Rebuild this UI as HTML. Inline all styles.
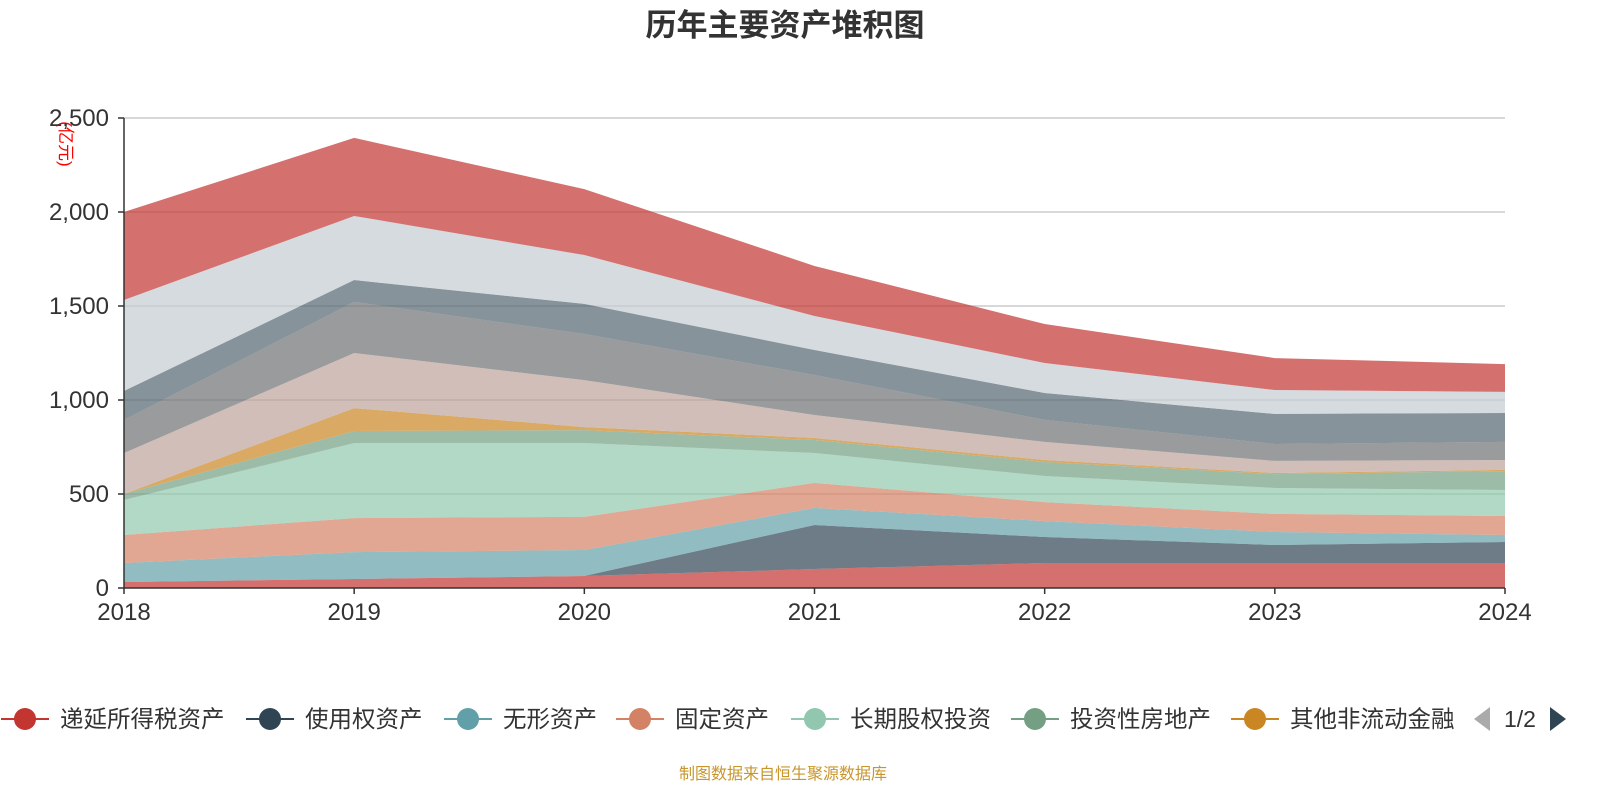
<!DOCTYPE html>
<html><head><meta charset="utf-8">
<style>
html,body{margin:0;padding:0;background:#fff;}
body{width:1600px;height:800px;overflow:hidden;font-family:"Liberation Sans","Noto Sans CJK SC",sans-serif;}
svg text{font-family:"Liberation Sans","Noto Sans CJK SC",sans-serif;}
</style></head>
<body>
<svg id="chart" width="1600" height="800" viewBox="0 0 1600 800">
<text x="785" y="36" text-anchor="middle" font-size="31" font-weight="bold" fill="#333">历年主要资产堆积图</text>
<text transform="translate(60,144) rotate(90)" text-anchor="middle" font-size="17" fill="#ff0000">(亿元)</text>
<g id="grid"></g>
<g id="areas"></g>
<g id="axes"></g>
<g id="legend"></g>
<text x="783" y="779" text-anchor="middle" font-size="16" fill="#c8962c">制图数据来自恒生聚源数据库</text>
</svg>
<script>
const years = ["2018","2019","2020","2021","2022","2023","2024"];
const seriesNames = ["递延所得税资产","使用权资产","无形资产","固定资产","长期股权投资","投资性房地产","其他非流动金融","商誉","在建工程","长期待摊费用","其他非流动资产","货币资金"];
const s0 = [32,48,64,101,133,133,133];
const s1 = [0,0,0,234,138,96,112];
const s2 = [101,143,138,91,85,69,37];
const s3 = [149,181,176,133,101,96,101];
const s4 = [186,399,393,159,139,138,138];
const s5 = [32,64,69,69,74,74,101];
const s6 = [0,122,16,11,11,6,6];
const s7 = [218,293,250,122,96,64,53];
const s8 = [176,271,245,213,117,90,96];
const s9 = [154,117,160,133,143,160,154];
const s10 = [484,341,260,181,160,127,112];
const s11 = [468,415,351,266,207,170,148];
const yTicks = [0,500,1000,1500,2000,2500];
const yTickLabels = ["0","500","1,000","1,500","2,000","2,500"];
const colors = ["#c23531","#2f4554","#61a0a8","#d48265","#91c7ae","#749f83","#ca8622","#bda29a","#6e7074","#546570","#c4ccd3","#c23531"];

const series = [s0,s1,s2,s3,s4,s5,s6,s7,s8,s9,s10,s11];
const X0=124,X1=1505,Y0=588,Y1=118,YMAX=2500;
const xs = i => X0 + (X1-X0)*i/(years.length-1);
const ys = v => Y0 - (Y0-Y1)*v/YMAX;
const NS="http://www.w3.org/2000/svg";
function mk(tag, attrs, parent){const e=document.createElementNS(NS,tag);for(const k in attrs)e.setAttribute(k,attrs[k]);parent.appendChild(e);return e;}

const grid=document.getElementById('grid');
const axes=document.getElementById('axes');
yTicks.forEach((t,i)=>{
  if(t>0){const l=mk('line',{x1:X0,x2:X1,y1:ys(t),y2:ys(t),stroke:'#ccc','stroke-width':1.5},grid);
  
  }
  const tk=mk('line',{x1:X0-6,x2:X0,y1:ys(t),y2:ys(t),stroke:'#333','stroke-width':1.5},axes);
  
  
  const tx=mk('text',{x:X0-15,y:ys(t)+8,'text-anchor':'end','font-size':24,fill:'#333'},axes);
  tx.textContent=yTickLabels[i];
  
  
});
const areas=document.getElementById('areas');
let base=years.map(()=>0);
series.forEach((s,k)=>{
  const top=base.map((b,i)=>b+s[i]);
  let d='M'+years.map((_,i)=>xs(i)+','+ys(top[i])).join('L');
  for(let i=years.length-1;i>=0;i--) d+='L'+xs(i)+','+ys(base[i]);
  d+='Z';
  const p=mk('path',{d:d,fill:colors[k],'fill-opacity':0.7},areas);
  
  
  base=top;
});
mk('line',{x1:X0,x2:X0,y1:Y1,y2:Y0,stroke:'#333','stroke-width':1.5},axes);
mk('line',{x1:X0,x2:X1,y1:Y0,y2:Y0,stroke:'#333','stroke-width':1.5},axes);
years.forEach((y,i)=>{
  const tk=mk('line',{x1:xs(i),x2:xs(i),y1:Y0,y2:Y0+6,stroke:'#333','stroke-width':1.5},axes);
  
  
  const tx=mk('text',{x:xs(i),y:Y0+32,'text-anchor':'middle','font-size':24,fill:'#333'},axes);
  tx.textContent=y;
  
  
});
const legend=document.getElementById('legend');
const lx=[25,270,468,640,815,1035,1255];
for(let k=0;k<7;k++){
  const g=mk('g',{},legend);
  
  
  mk('line',{x1:lx[k]-24,x2:lx[k]+24,y1:719,y2:719,stroke:colors[k],'stroke-width':2},g);
  mk('circle',{cx:lx[k],cy:719,r:11,fill:colors[k]},g);
  const t=mk('text',{x:lx[k]+35,y:727,'font-size':23.5,fill:'#333'},g);
  t.textContent=seriesNames[k];
}
const pl=mk('path',{d:'M1490,707L1474,719L1490,731Z',fill:'#aaa'},legend);


const pt=mk('text',{x:1520,y:727,'text-anchor':'middle','font-size':23,fill:'#333'},legend);
pt.textContent='1/2';


const pn=mk('path',{d:'M1550,707L1566,719L1550,731Z',fill:'#2f4554'},legend);


</script>
</body></html>
